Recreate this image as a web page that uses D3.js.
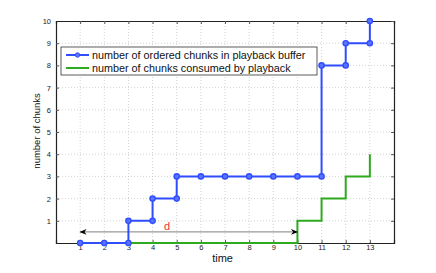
<!DOCTYPE html>
<html>
<head>
<meta charset="utf-8">
<script src="https://cdn.jsdelivr.net/npm/d3@7"></script>
<style>
  body { margin: 0; background: #fff; }
  svg text { font-family: "Liberation Sans", Arial, sans-serif; }
</style>
</head>
<body>
<div id="chart"></div>
<script>
(function() {
  var width = 436;
  var height = 273;
  var margin = { top: 21, right: 42, bottom: 30, left: 56 };

  // Data
  var bufferX = [1, 2, 3, 3, 4, 4, 5, 5, 6, 7, 8, 9, 10, 11, 11, 12, 12, 13, 13];
  var bufferY = [0, 0, 0, 1, 1, 2, 2, 3, 3, 3, 3, 3, 3, 3, 8, 8, 9, 9, 10];
  var consumedX = [1, 10, 10, 11, 11, 12, 12, 13, 13];
  var consumedY = [0, 0, 1, 1, 2, 2, 3, 3, 4];
  var xTicks = [1, 2, 3, 4, 5, 6, 7, 8, 9, 10, 11, 12, 13];
  var yTicks = [1, 2, 3, 4, 5, 6, 7, 8, 9, 10];
  var seriesNames = ['number of ordered chunks in playback buffer', 'number of chunks consumed by playback'];
  var delay = { from: 1, to: 10, level: 0.5, label: 'd', labelX: 4.6 };

  var blue = '#2f4dff';
  var green = '#2eaa1e';

  var svg = d3.select('#chart').append('svg').attr('width', width).attr('height', height);
  var innerW = width - margin.left - margin.right;
  var innerH = height - margin.top - margin.bottom;

  var x = d3.scaleLinear().domain([0, 14]).range([margin.left, margin.left + innerW]);
  var y = d3.scaleLinear().domain([0, 10]).range([margin.top + innerH, margin.top]);

  // dotted grid
  var grid = svg.append('g').attr('stroke', '#c8c8c8').attr('stroke-dasharray', '1,2').attr('stroke-width', 0.8);
  grid.selectAll('.vg').data(xTicks).enter().append('line')
    .attr('x1', function(d) { return x(d); }).attr('x2', function(d) { return x(d); })
    .attr('y1', y(0)).attr('y2', y(10));
  grid.selectAll('.hg').data(yTicks.filter(function(d) { return d < 10; })).enter().append('line')
    .attr('x1', x(0)).attr('x2', x(14))
    .attr('y1', function(d) { return y(d); }).attr('y2', function(d) { return y(d); });

  // axes (MATLAB style, ticks inward)
  var xAxis = d3.axisBottom(x).tickValues(xTicks).tickSize(-3).tickPadding(2).tickFormat(d3.format('d'));
  var yAxis = d3.axisLeft(y).tickValues(yTicks).tickSize(-3).tickPadding(5).tickFormat(d3.format('d'));
  var xg = svg.append('g').attr('transform', 'translate(0,' + y(0) + ')').call(xAxis);
  var yg = svg.append('g').attr('transform', 'translate(' + x(0) + ',0)').call(yAxis);
  var xTop = svg.append('g').attr('transform', 'translate(0,' + y(10) + ')')
    .call(d3.axisTop(x).tickValues(xTicks).tickSize(-3).tickFormat(''));
  var yRight = svg.append('g').attr('transform', 'translate(' + x(14) + ',0)')
    .call(d3.axisRight(y).tickValues(yTicks).tickSize(-3).tickFormat(''));
  [xg, yg, xTop, yRight].forEach(function(g) {
    g.select('.domain').attr('stroke', '#222').attr('stroke-width', 1.2);
    g.selectAll('.tick line').attr('stroke', '#555');
    g.selectAll('text').attr('font-size', 7.5).attr('fill', '#222');
  });

  // axis labels
  svg.append('text').attr('x', x(6.9)).attr('y', 262).attr('text-anchor', 'middle')
    .attr('font-size', 11).attr('fill', '#111').text('time');
  svg.append('text').attr('transform', 'translate(40,' + y(5.05) + ') rotate(-90)')
    .attr('text-anchor', 'middle').attr('font-size', 9.5).attr('fill', '#111').text('number of chunks');

  var line = d3.line().x(function(d) { return x(d[0]); }).y(function(d) { return y(d[1]); });
  var consumed = consumedX.map(function(v, i) { return [v, consumedY[i]]; });
  var buffer = bufferX.map(function(v, i) { return [v, bufferY[i]]; });

  svg.append('path').datum(consumed).attr('d', line).attr('fill', 'none')
    .attr('stroke', green).attr('stroke-width', 2);

  // delay arrow
  var defs = svg.append('defs');
  defs.append('marker').attr('id', 'ah').attr('viewBox', '0 0 10 10').attr('refX', 9).attr('refY', 5)
    .attr('markerWidth', 7).attr('markerHeight', 6).attr('orient', 'auto-start-reverse')
    .append('path').attr('d', 'M0,1 L10,5 L0,9 L3,5 Z').attr('fill', '#000');
  svg.append('line').attr('x1', x(delay.from)).attr('x2', x(delay.to))
    .attr('y1', y(delay.level)).attr('y2', y(delay.level))
    .attr('stroke', '#999').attr('stroke-width', 1.2)
    .attr('marker-start', 'url(#ah)').attr('marker-end', 'url(#ah)');
  svg.append('text').attr('x', x(delay.labelX)).attr('y', y(delay.level) - 2)
    .attr('font-size', 11).attr('fill', '#e33').attr('text-anchor', 'middle').text(delay.label);

  svg.append('path').datum(buffer).attr('d', line).attr('fill', 'none')
    .attr('stroke', blue).attr('stroke-width', 2);
  svg.selectAll('.pt').data(buffer).enter().append('circle')
    .attr('cx', function(d) { return x(d[0]); }).attr('cy', function(d) { return y(d[1]); })
    .attr('r', 2.6).attr('fill', '#5a74ff').attr('stroke', blue).attr('stroke-width', 1.4);

  // legend
  var lg = svg.append('g');
  lg.append('rect').attr('x', 61).attr('y', 47).attr('width', 256).attr('height', 28)
    .attr('fill', '#fff').attr('stroke', '#333').attr('stroke-width', 0.8);
  var rows = [{ name: seriesNames[0], color: blue, marker: true, y: 55 },
              { name: seriesNames[1], color: green, marker: false, y: 68 }];
  rows.forEach(function(r) {
    lg.append('line').attr('x1', 66).attr('x2', 89).attr('y1', r.y).attr('y2', r.y)
      .attr('stroke', r.color).attr('stroke-width', 2);
    if (r.marker) {
      lg.append('circle').attr('cx', 77.5).attr('cy', r.y).attr('r', 2.2)
        .attr('fill', '#5a74ff').attr('stroke', r.color).attr('stroke-width', 1);
    }
    lg.append('text').attr('x', 92).attr('y', r.y + 3.8).attr('font-size', 10.8).attr('fill', '#111').text(r.name);
  });
}).call(this);
</script>
</body>
</html>
